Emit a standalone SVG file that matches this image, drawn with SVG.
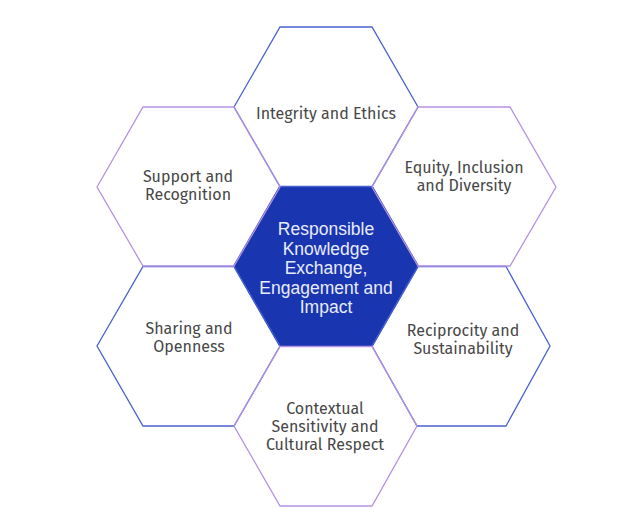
<svg xmlns="http://www.w3.org/2000/svg" width="643" height="524" viewBox="0 0 643 524">
<defs>
<style>
.hex{fill:none;stroke-width:1.3}
.blue{stroke:#4a62cf}
.purple{stroke:#b592e3}
.core{fill:#1a35b0;stroke:none}
.lbl{font-family:"Fira Sans","Noto Sans","Open Sans",sans-serif;font-size:16px;font-weight:400;fill:#474747;text-anchor:middle}
.clbl{font-family:"Liberation Sans",Arial,sans-serif;font-size:17.5px;fill:#e8ecff;text-anchor:middle}
</style>
</defs>
<rect width="643" height="524" fill="#ffffff"/>
<g id="core">
<polygon class="core" points="233,266 279,186.5 373,186.5 419,266 373,346 279,346"/>
<text class="clbl"><tspan x="326" y="235">Responsible</tspan><tspan x="326" y="254.5">Knowledge</tspan><tspan x="326" y="274">Exchange,</tspan><tspan x="326" y="293.5">Engagement and</tspan><tspan x="326" y="313">Impact</tspan></text>
</g>
<g id="integrity">
<polygon class="hex blue" points="234,107 280,27 372,27 418,107 372,186.5 280,186.5"/>
<text class="lbl" x="326" y="118.5">Integrity and Ethics</text>
</g>
<g id="sharing">
<polygon class="hex blue" points="97,346 143,266.5 234,266.5 280,346 234,426 143,426"/>
<text class="lbl"><tspan x="189" y="334">Sharing and</tspan><tspan x="189" y="351.5">Openness</tspan></text>
</g>
<g id="reciprocity">
<polygon class="hex blue" points="372,346 418,266.5 506,266.5 550,346 506,426 417,426"/>
<text class="lbl"><tspan x="463" y="336">Reciprocity and</tspan><tspan x="463" y="353.5">Sustainability</tspan></text>
</g>
<g id="support">
<polygon class="hex purple" points="97,187 143,107 234,107 280,187 234,266 143,266"/>
<text class="lbl"><tspan x="188" y="182">Support and</tspan><tspan x="188" y="199.5">Recognition</tspan></text>
</g>
<g id="equity">
<polygon class="hex purple" points="372,187 418,107 510,107 556,187 510,266 418,266"/>
<text class="lbl"><tspan x="464" y="173">Equity, Inclusion</tspan><tspan x="464" y="190.5">and Diversity</tspan></text>
</g>
<g id="contextual">
<polygon class="hex purple" points="234,426 280,346.5 372,346.5 417,426 372,506 280,506"/>
<text class="lbl"><tspan x="325" y="414">Contextual</tspan><tspan x="325" y="431.5">Sensitivity and</tspan><tspan x="325" y="449.5">Cultural Respect</tspan></text>
</g>
<g id="connectors"></g>
</svg>
